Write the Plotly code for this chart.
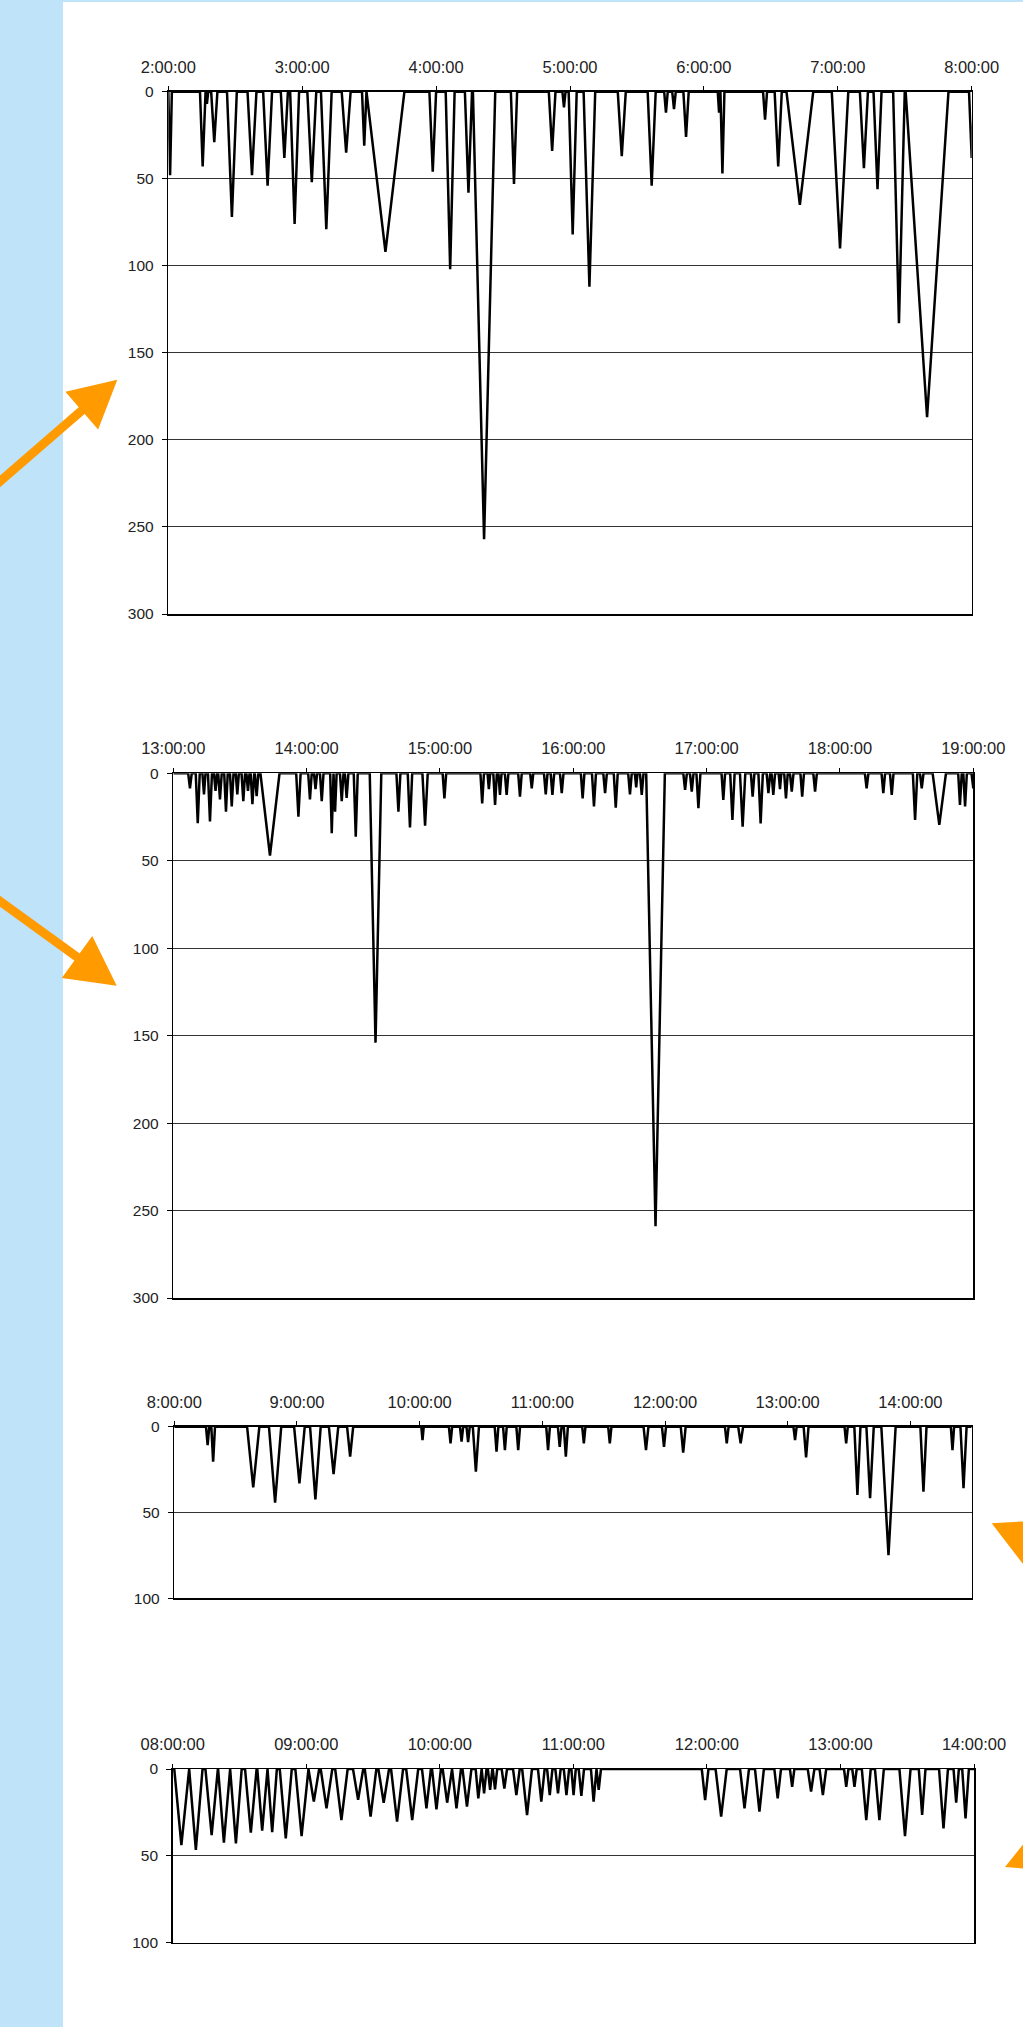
import math
import plotly.graph_objects as go

W, H = 1023, 2027

# ---------------- Chart 1 : 2:00:00 - 8:00:00 (minutes after 2:00:00) ----------------
c1_peak_min = [0.8, 15.4, 17.3, 20.6, 28.5, 37.5, 44.5, 52.0, 56.6, 64.3, 70.8, 79.7, 87.8,
               97.3, 118.5, 126.3, 134.5, 141.5, 154.9, 172.0, 177.3, 181.2, 188.7, 203.2,
               216.6, 223.0, 226.6, 232.0, 246.8, 248.3, 267.4, 273.3, 283.0, 301.0, 311.7,
               317.8, 327.4, 340.0, 360.0]
c1_depth = [48, 43, 7, 29, 72, 48, 54, 38, 76, 52, 79, 35, 31,
            92, 46, 102, 58, 257, 53, 34, 9, 82, 112, 37,
            54, 12, 10, 26, 12, 47, 16, 43, 65, 90, 44,
            56, 133, 187, 38]
c1_halfwidth = [0.8, 1.2, 0.6, 1.4, 2.2, 2.0, 2.0, 1.6, 2.0, 2.0, 2.4, 2.0, 1.0,
                8.5, 1.5, 2.0, 1.6, 5.0, 1.4, 1.5, 0.7, 1.8, 2.6, 1.8,
                1.8, 0.8, 0.8, 1.2, 0.6, 0.9, 0.9, 1.6, 6.0, 3.7, 1.8,
                1.8, 2.6, 9.6, 1.2]
c1_span = 360
c1_xtick_text = ["2:00:00", "3:00:00", "4:00:00", "5:00:00", "6:00:00", "7:00:00", "8:00:00"]
c1_ytick_vals = [0, 50, 100, 150, 200, 250, 300]

# ---------------- Chart 2 : 13:00:00 - 19:00:00 ----------------
c2_peak_min = [7.5, 11.0, 13.8, 16.5, 19.0, 21.0, 23.7, 26.3, 28.8, 31.5, 33.6, 35.6, 37.5,
               43.5, 56.3, 61.5, 64.0, 66.8, 71.3, 72.8, 75.8, 78.0, 82.1, 91.0,
               101.3, 106.5, 113.3, 122.0, 139.0, 142.0, 144.8, 147.0, 150.0, 156.0,
               161.3, 167.6, 170.6, 174.8, 184.2, 189.3, 194.3, 199.1, 205.5, 208.3,
               210.8, 217.0, 230.3, 233.3, 236.3, 247.5, 251.6, 256.2, 260.7, 264.3,
               267.8, 270.0, 273.0, 275.7, 278.3, 283.0, 288.8, 312.0, 319.5, 323.3,
               333.8, 336.8, 344.7, 354.0, 356.3, 360.0]
c2_depth = [8.6, 28.6, 12, 27.6, 10, 15, 22, 19, 12, 16, 10, 17.7, 13,
            47, 24.8, 15, 9, 16, 34.3, 22, 16, 14, 36.2, 154,
            22, 31, 30, 14.3, 17.2, 9, 18.1, 12.4, 12.4, 13.3,
            8.6, 12, 12.4, 11.4, 14.3, 19, 11.4, 19.6, 12, 8,
            12.4, 259, 9.5, 10.5, 20, 15.2, 26.7, 30.5, 13.3, 28.6,
            11.4, 12.4, 9, 14.3, 10.5, 13.3, 10.5, 8.6, 11.4, 12.4,
            26.7, 8.6, 29.5, 18.1, 19, 8.6]
c2_halfwidth = [0.8, 0.9, 0.7, 0.9, 0.7, 0.8, 0.8, 0.8, 0.7, 0.8, 0.7, 0.8, 0.8,
                4.3, 1.0, 0.8, 0.7, 0.8, 0.7, 0.7, 0.8, 0.8, 0.9, 2.6,
                0.9, 1.0, 1.2, 0.8, 0.8, 0.6, 0.8, 0.7, 0.8, 0.8,
                0.7, 0.8, 0.8, 0.8, 0.8, 0.9, 0.8, 0.9, 0.8, 0.6,
                0.8, 4.2, 0.8, 0.8, 0.9, 0.8, 1.0, 1.2, 0.8, 1.0,
                0.8, 0.8, 0.6, 0.8, 0.8, 0.8, 0.8, 0.8, 0.8, 0.8,
                1.0, 0.8, 3.0, 0.8, 0.8, 0.8]
c2_span = 360
c2_xtick_text = ["13:00:00", "14:00:00", "15:00:00", "16:00:00", "17:00:00", "18:00:00", "19:00:00"]
c2_ytick_vals = [0, 50, 100, 150, 200, 250, 300]

# ---------------- Chart 3 : 8:00:00 - 14:30:00 ----------------
c3_peak_min = [16.3, 19.0, 38.6, 49.3, 61.2, 69.0, 77.9, 86.0, 121.4, 135.1, 140.5, 143.7,
               147.5, 157.6, 161.7, 168.2, 182.8, 188.5, 191.5, 200.3, 213.0, 230.7,
               239.5, 248.9, 270.2, 277.0, 303.6, 309.0, 328.6, 334.1, 340.3, 349.3,
               366.4, 380.6, 386.0]
c3_depth = [10.7, 20.4, 35.3, 44.3, 33, 42.3, 27.6, 17.5, 7.8, 9.7, 8.7, 9,
            26.2, 14.6, 13.6, 13.6, 13.6, 11.7, 17.5, 9.7, 9.7, 13.6,
            11.7, 15.1, 9.7, 9.7, 7.8, 17.9, 9.7, 39.8, 41.7, 74.8,
            37.9, 13.6, 35.9]
c3_halfwidth = [0.8, 0.9, 3.0, 3.0, 2.6, 2.6, 2.3, 1.5, 0.6, 0.8, 0.8, 0.8,
                1.5, 0.9, 0.9, 0.9, 0.9, 0.9, 1.0, 0.8, 0.8, 1.2,
                1.0, 1.2, 0.9, 1.2, 0.8, 1.2, 0.8, 1.5, 1.8, 3.5,
                1.5, 0.8, 1.5]
c3_span = 390
c3_xtick_text = ["8:00:00", "9:00:00", "10:00:00", "11:00:00", "12:00:00", "13:00:00", "14:00:00"]
c3_ytick_vals = [0, 50, 100]

# ---------------- Chart 4 : 08:00:00 - 14:00:00 ----------------
c4_peak_min = [3.9, 10.4, 17.5, 23.0, 28.4, 35.1, 40.2, 44.7, 50.8, 57.9, 63.4, 69.1, 75.8,
               83.3, 88.9, 94.8, 100.8, 107.6, 114.0, 118.5, 123.3, 127.5, 132.2, 137.3,
               139.9, 142.6, 144.8, 149.0, 154.4, 159.2, 165.6, 169.4, 173.1, 176.9,
               180.1, 183.6, 189.1, 191.4, 239.2, 246.4, 256.9, 263.6, 271.8, 278.3,
               286.8, 292.1, 302.6, 306.3, 311.6, 317.5, 329.0, 336.7, 346.3, 352.0, 356.2]
c4_depth = [43.8, 46.6, 38, 42.4, 42.8, 36.7, 35.5, 36.3, 39.9, 38.6, 18.8, 22.6, 29.4,
            17.7, 27.4, 19.4, 30.3, 29.4, 22.6, 23.2, 19.4, 22.6, 21.7, 16.9,
            14, 12, 11.7, 11.3, 15, 26.5, 18.8, 15, 14, 15,
            15, 15.5, 18.8, 12, 17.9, 27.4, 22.6, 24.6, 16.9, 10.2,
            13, 15, 10.2, 10.2, 29.4, 29.4, 38.6, 26.5, 34.2, 19.4, 28.4]
c4_halfwidth = [3.2, 3.0, 2.8, 2.6, 2.6, 2.6, 2.2, 2.1, 2.7, 2.8, 2.4, 2.6, 2.8,
                2.3, 2.6, 2.4, 2.7, 2.7, 2.0, 2.0, 2.0, 2.0, 2.0, 1.2,
                1.1, 1.0, 1.0, 1.2, 1.5, 2.2, 1.5, 1.2, 1.2, 1.2,
                1.0, 1.2, 1.2, 1.0, 1.5, 2.5, 2.0, 2.0, 1.5, 1.0,
                1.5, 1.5, 1.0, 1.0, 2.0, 2.0, 2.5, 1.5, 2.0, 1.2, 1.5]
c4_span = 360
c4_xtick_text = ["08:00:00", "09:00:00", "10:00:00", "11:00:00", "12:00:00", "13:00:00", "14:00:00"]
c4_ytick_vals = [0, 50, 100]

charts = [
    dict(peaks=c1_peak_min, depth=c1_depth, hw=c1_halfwidth, span=c1_span,
         xt=c1_xtick_text, yt=c1_ytick_vals, box=(168.3, 971.7, 91.7, 614.0)),
    dict(peaks=c2_peak_min, depth=c2_depth, hw=c2_halfwidth, span=c2_span,
         xt=c2_xtick_text, yt=c2_ytick_vals, box=(173.3, 973.3, 773.3, 1298.0)),
    dict(peaks=c3_peak_min, depth=c3_depth, hw=c3_halfwidth, span=c3_span,
         xt=c3_xtick_text, yt=c3_ytick_vals, box=(174.3, 971.7, 1426.7, 1598.3)),
    dict(peaks=c4_peak_min, depth=c4_depth, hw=c4_halfwidth, span=c4_span,
         xt=c4_xtick_text, yt=c4_ytick_vals, box=(172.7, 974.0, 1769.0, 1942.7)),
]


def px(x):
    return x / W


def py(y):
    return 1 - y / H


def build_line(peaks, depths, hws, span):
    xs, ys = [0.0], [0.0]
    for p, d, h in zip(peaks, depths, hws):
        xs += [max(p - h, 0.0), p, p + h]
        ys += [0.0, d, 0.0]
    if xs[-1] < span:
        xs.append(span)
        ys.append(0.0)
    return xs, ys


fig = go.Figure()
xfont = dict(family="Arial, Liberation Sans, sans-serif", size=16.5, color="#222222")
yfont = dict(family="Arial, Liberation Sans, sans-serif", size=15.5, color="#222222")
layout = dict(width=W, height=H,
              margin=dict(l=0, r=0, t=0, b=0, pad=0, autoexpand=False),
              paper_bgcolor="white", plot_bgcolor="white", showlegend=False)

for i, c in enumerate(charts, start=1):
    xs, ys = build_line(c["peaks"], c["depth"], c["hw"], c["span"])
    xa = "x" if i == 1 else f"x{i}"
    ya = "y" if i == 1 else f"y{i}"
    fig.add_trace(go.Scatter(x=xs, y=ys, mode="lines", xaxis=xa, yaxis=ya,
                             line=dict(color="black", width=2.5), hoverinfo="skip"))
    x0, x1, y0, y1 = c["box"]
    ymax = c["yt"][-1]
    layout["xaxis" if i == 1 else f"xaxis{i}"] = dict(
        domain=[px(x0), px(x1)], range=[0, c["span"]], side="top", anchor=ya,
        tickvals=[60 * k for k in range(len(c["xt"]))], ticktext=c["xt"],
        ticks="outside", ticklen=4, tickcolor="black", tickwidth=1,
        showline=True, linecolor="black", linewidth=1.5, mirror=True,
        showgrid=False, zeroline=False, tickfont=xfont, ticklabelstandoff=7,
        automargin=False)
    layout["yaxis" if i == 1 else f"yaxis{i}"] = dict(
        domain=[py(y1), py(y0)], range=[ymax, 0], anchor=xa,
        tickvals=c["yt"], ticks="outside", ticklen=5, tickcolor="black", tickwidth=1,
        showline=True, linecolor="black", linewidth=1.5, mirror=True,
        showgrid=True, gridcolor="#333333", gridwidth=1, zeroline=False,
        tickfont=yfont, ticklabelstandoff=5, automargin=False)

shapes = []
# light blue band on the left and thin strip at the top
shapes.append(dict(type="rect", xref="paper", yref="paper", x0=0, x1=px(63), y0=0, y1=1,
                   fillcolor="#BFE3F9", line=dict(width=0), layer="below"))
shapes.append(dict(type="rect", xref="paper", yref="paper", x0=0, x1=1, y0=py(2), y1=1,
                   fillcolor="#BFE3F9", line=dict(width=0), layer="below"))

ORANGE = "#FF9A00"


def arrow(tail, tip, head_len=49, head_hw=26, shaft=9):
    tx, ty = tail
    hx, hy = tip
    L = math.hypot(hx - tx, hy - ty)
    ux, uy = (hx - tx) / L, (hy - ty) / L
    bx, by = hx - ux * head_len, hy - uy * head_len
    nx, ny = -uy, ux
    out = [dict(type="line", xref="paper", yref="paper",
                x0=px(tx), y0=py(ty), x1=px(bx + ux * 4), y1=py(by + uy * 4),
                line=dict(color=ORANGE, width=shaft))]
    c1 = (bx + nx * head_hw, by + ny * head_hw)
    c2 = (bx - nx * head_hw, by - ny * head_hw)
    path = (f"M {px(hx)} {py(hy)} L {px(c1[0])} {py(c1[1])} "
            f"L {px(c2[0])} {py(c2[1])} Z")
    out.append(dict(type="path", xref="paper", yref="paper", path=path,
                    fillcolor=ORANGE, line=dict(color=ORANGE, width=0)))
    return out


shapes += arrow((-10, 490), (117.3, 379.8), head_len=47, head_hw=25)
shapes += arrow((-10, 894), (116.7, 985.8), head_len=49, head_hw=26)
shapes += arrow((1120, 1523.3 + 128.3 * math.tan(math.radians(24.5))), (991.7, 1523.3))
shapes += arrow((1120, 1867 - 115 * math.tan(math.radians(23.5))), (1005, 1867))

layout["shapes"] = shapes
fig.update_layout(**layout)
fig.write_html(
    "out.html",
    config={"displayModeBar": False, "staticPlot": True},
    post_script="document.body.style.margin='0px';document.body.style.overflow='hidden';",
)
